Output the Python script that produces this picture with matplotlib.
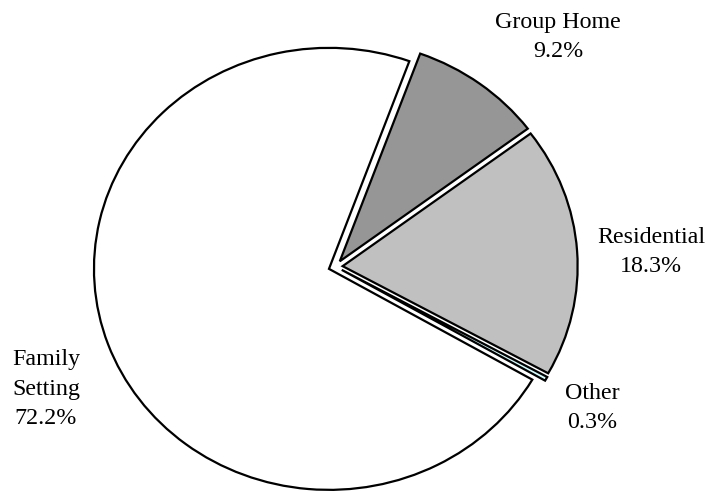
import matplotlib
matplotlib.use("Agg")
import matplotlib.pyplot as plt

categories = ["Group Home", "Residential", "Other", "Family Setting"]
values = [9.2, 18.3, 0.3, 72.2]
label_names = ["Group Home", "Residential", "Other", "Family\nSetting"]
colors = ["#969696", "#c0c0c0", "#ccffff", "#ffffff"]

W, H = 710, 491
fig = plt.figure(figsize=(W / 100, H / 100), dpi=100)
ax = fig.add_axes([0, 0, 1, 1])

ax.pie(values, colors=colors, explode=[0.03] * len(values), startangle=70,
       counterclock=False, radius=1.0,
       wedgeprops=dict(edgecolor="black", linewidth=1.6, joinstyle="miter"))

# pie centre / radii in pixels (slightly elliptical as in the reference)
cx, cy, rx, ry = 335.6, 266.6, 235.0, 221.0
ax.set_aspect("auto")
ax.set_xlim(-cx / rx, (W - cx) / rx)
ax.set_ylim(-(H - cy) / ry, cy / ry)
ax.axis("off")

label_pos = {
    "Group Home": (558, 37),
    "Residential": (651, 252),
    "Other": (592, 408),
    "Family Setting": (46, 389),
}
for cat, name, v in zip(categories, label_names, values):
    x, y = label_pos[cat]
    fig.text(x / W, 1 - y / H, f"{name}\n{v}%", ha="center", va="center",
             fontsize=17.3, family="Liberation Serif", linespacing=1.55,
             multialignment="center")

fig.savefig("out.png", dpi=100)
